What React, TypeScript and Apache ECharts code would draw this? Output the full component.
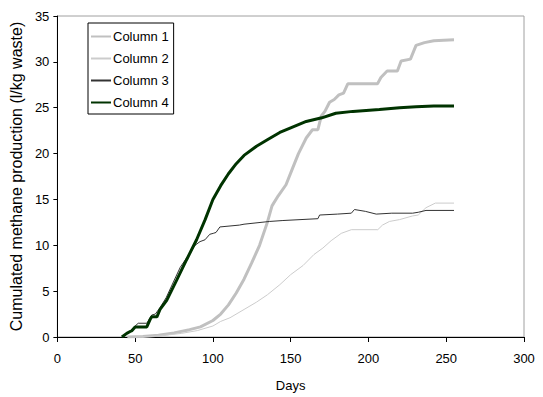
import React, { useEffect, useRef } from "react";
import * as echarts from "echarts";

const seriesNames = ["Column 1", "Column 2", "Column 3", "Column 4"];

const column1: number[][] = [
  [45, 0], [55, 0.05], [65, 0.2], [75, 0.45], [85, 0.8], [92, 1.1], [100, 1.8], [105, 2.5],
  [110, 3.5], [115, 4.8], [120, 6.3], [125, 8.1], [130, 10.0], [135, 12.5], [138, 14.3],
  [142, 15.4], [147, 16.6], [151, 18.3], [155, 20.0], [160, 21.7], [164, 22.6], [167.5, 22.6],
  [169.7, 24.1], [172, 24.6], [175, 25.6], [178, 25.9], [181, 26.4], [184, 26.6], [186.7, 27.6],
  [205.8, 27.6], [208, 28.3], [212, 29.0], [218.6, 29.0], [221, 30.1], [227, 30.3], [230.6, 31.8],
  [236, 32.1], [242, 32.3], [255, 32.4],
];

const column2: number[][] = [
  [50, 0], [60, 0.05], [70, 0.2], [80, 0.4], [90, 0.7], [100, 1.2], [105, 1.7], [111, 2.1],
  [120, 3.0], [128, 3.8], [135, 4.6], [143, 5.7], [150, 6.8], [158, 7.8], [165, 9.0],
  [170.7, 9.7], [176, 10.5], [182.5, 11.3], [189, 11.7], [206, 11.7], [209, 12.2], [213.5, 12.6],
  [220, 12.8], [228.4, 13.2], [232, 13.3], [237, 14.1], [243, 14.6], [255, 14.6],
];

const column3: number[][] = [
  [41.5, 0], [44, 0.3], [47, 0.7], [50, 1.2], [52, 1.5], [57.5, 1.5], [60.7, 2.4], [63, 2.5],
  [66, 3.2], [70, 4.3], [74.6, 6.0], [79, 7.6], [83, 8.6], [88.5, 10.0], [91.7, 10.4],
  [94.9, 10.6], [98, 11.2], [100.2, 11.3], [102, 11.4], [104.5, 12.0], [117, 12.2], [120, 12.3],
  [136.5, 12.6], [145, 12.7], [167.5, 12.9], [168.6, 13.3], [180, 13.4], [189, 13.5], [191, 13.9],
  [198, 13.7], [205, 13.4], [215, 13.5], [228.4, 13.5], [232, 13.6], [237, 13.8], [255, 13.8],
];

const column4: number[][] = [
  [41.5, 0], [44.6, 0.4], [46.8, 0.6], [48, 0.7], [50, 1.1], [57.5, 1.1], [59.6, 1.9], [60.7, 2.2],
  [64, 2.2], [66, 3.0], [70.3, 4.0], [76.7, 6.2], [83, 8.4], [89.5, 10.6], [95, 12.8], [100, 15.0],
  [105, 16.5], [110, 17.8], [115, 18.9], [120, 19.8], [128, 20.8], [135, 21.5], [143, 22.3],
  [150, 22.8], [160, 23.5], [170, 23.9], [179, 24.4], [190, 24.6], [207, 24.8], [220, 25.0],
  [230.6, 25.1], [242, 25.2], [255, 25.2],
];

const seriesData = [column1, column2, column3, column4];
const seriesColors = ["#c0c0c0", "#cccccc", "#333333", "#003300"];
const seriesWidths = [3, 1, 1, 3];

const FONT = "'Liberation Sans', Arial, sans-serif";

export default function App() {
  const ref = useRef<HTMLDivElement>(null);
  useEffect(() => {
    if (!ref.current) return;
    const chart = echarts.init(ref.current, undefined, { renderer: "svg" });
    chart.setOption({
      animation: false,
      backgroundColor: "#ffffff",
      textStyle: { fontFamily: FONT },
      grid: {
        left: 57, right: 19, top: 16, bottom: 60,
        show: true, borderColor: "#a0a0a0", borderWidth: 1, backgroundColor: "transparent",
      },
      legend: {
        orient: "vertical",
        left: 88, top: 23,
        data: seriesNames,
        backgroundColor: "#ffffff",
        borderColor: "#000000",
        borderWidth: 1,
        padding: [7, 5, 5, 2],
        itemWidth: 20,
        itemHeight: 14,
        itemGap: 9,
        itemStyle: { opacity: 0, color: "transparent", borderWidth: 0 },
        textStyle: { fontFamily: FONT, fontSize: 13, color: "#000", padding: [0, 0, 0, -3] },
      },
      xAxis: {
        type: "value",
        min: 0, max: 300, interval: 50,
        name: "Days",
        nameLocation: "middle",
        nameGap: 42,
        nameTextStyle: { fontFamily: FONT, fontSize: 13, color: "#000" },
        axisLine: { show: true, lineStyle: { color: "#000", width: 1 } },
        axisTick: { show: true, inside: false, length: 5, lineStyle: { color: "#000" } },
        axisLabel: { fontFamily: FONT, fontSize: 13, color: "#000", margin: 15 },
        splitLine: { show: false },
      },
      yAxis: {
        type: "value",
        min: 0, max: 35, interval: 5,
        name: "Cumulated methane production (l/kg waste)",
        nameLocation: "middle",
        nameGap: 21,
        nameTextStyle: { fontFamily: FONT, fontSize: 16, color: "#000" },
        axisLine: { show: true, lineStyle: { color: "#000", width: 1 } },
        axisTick: { show: true, inside: false, length: 4, lineStyle: { color: "#000" } },
        axisLabel: { fontFamily: FONT, fontSize: 13, color: "#000", margin: 8 },
        splitLine: { show: false },
      },
      series: seriesNames.map((name, i) => ({
        name,
        type: "line",
        data: seriesData[i],
        symbol: "none",
        showSymbol: false,
        color: seriesColors[i],
        lineStyle: { color: seriesColors[i], width: seriesWidths[i] },
        z: i === 3 ? 5 : 2 + i,
      })),
    });
    return () => chart.dispose();
  }, []);
  return (
    <div
      ref={ref}
      style={{ position: "fixed", left: 0, top: 0, width: 543, height: 397 }}
    />
  );
}
